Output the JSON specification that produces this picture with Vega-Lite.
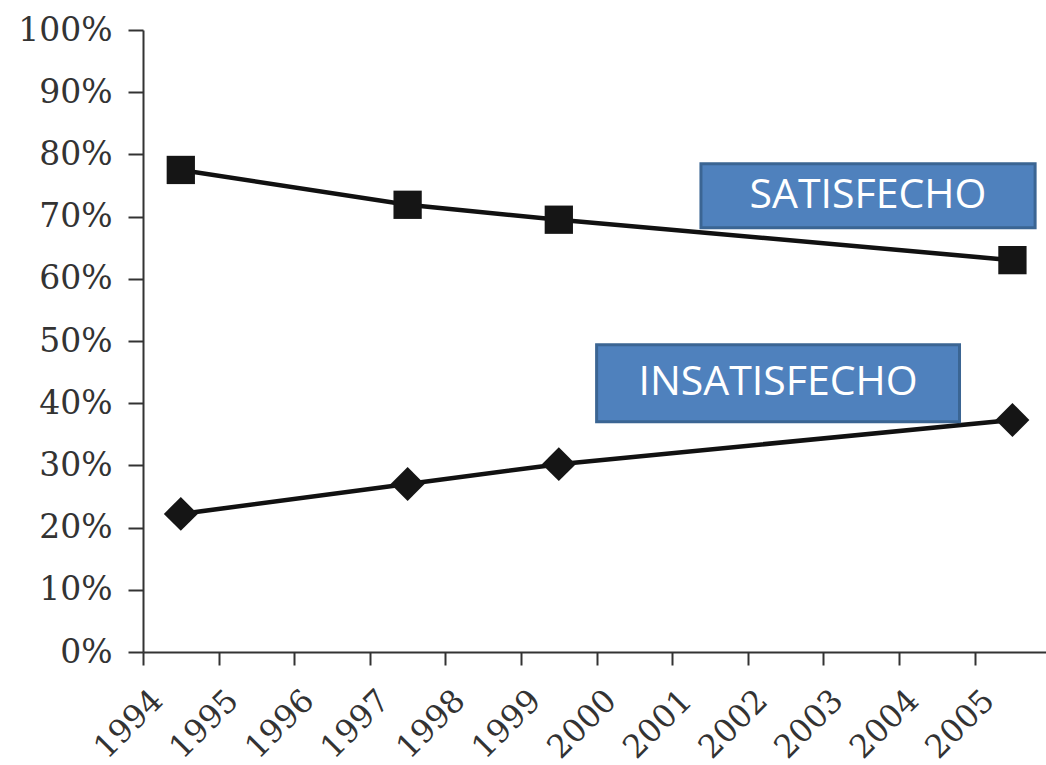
{
  "$schema": "https://vega.github.io/schema/vega-lite/v6.json",
  "width": 903,
  "height": 622,
  "autosize": "none",
  "padding": {"left": 143, "top": 30, "right": 0, "bottom": 113},
  "background": "white",
  "config": {"view": {"stroke": null}},
  "datasets": {
    "series": [
      {"year": 1994.5, "value": 77.5, "series": "Satisfecho"},
      {"year": 1997.5, "value": 71.9, "series": "Satisfecho"},
      {"year": 1999.5, "value": 69.5, "series": "Satisfecho"},
      {"year": 2005.5, "value": 63.0, "series": "Satisfecho"},
      {"year": 1994.5, "value": 22.2, "series": "Insatisfecho"},
      {"year": 1997.5, "value": 27.0, "series": "Insatisfecho"},
      {"year": 1999.5, "value": 30.2, "series": "Insatisfecho"},
      {"year": 2005.5, "value": 37.3, "series": "Insatisfecho"}
    ],
    "labels": [
      {"label": "SATISFECHO", "x1": 2001.38, "x2": 2005.8, "y1": 78.5, "y2": 68.2, "tx": 2003.59, "ty": 73.3},
      {"label": "INSATISFECHO", "x1": 2000.0, "x2": 2004.8, "y1": 49.4, "y2": 37.0, "tx": 2002.4, "ty": 43.2}
    ]
  },
  "layer": [
    {
      "data": {"name": "series"},
      "mark": {"type": "line", "color": "#111111", "strokeWidth": 4.5},
      "encoding": {
        "x": {
          "field": "year", "type": "quantitative",
          "scale": {"domain": [1994, 2005.944], "nice": false, "zero": false},
          "axis": {
            "title": null,
            "values": [1994, 1995, 1996, 1997, 1998, 1999, 2000, 2001, 2002, 2003, 2004, 2005],
            "format": "d",
            "labelAngle": -45,
            "labelAlign": "right",
            "labelBaseline": "middle",
            "labelFont": "DejaVu Serif",
            "labelFontSize": 32,
            "labelColor": "#333333",
            "labelPadding": 30,
            "labelOffset": 14,
            "labelFlush": false,
            "labelOverlap": false,
            "tickSize": 13,
            "tickWidth": 2,
            "tickColor": "#333333",
            "domainColor": "#333333",
            "domainWidth": 2,
            "grid": false
          }
        },
        "y": {
          "field": "value", "type": "quantitative",
          "scale": {"domain": [0, 100], "nice": false},
          "axis": {
            "title": null,
            "values": [0, 10, 20, 30, 40, 50, 60, 70, 80, 90, 100],
            "labelExpr": "datum.value + '%'",
            "labelFont": "DejaVu Serif",
            "labelFontSize": 33,
            "labelColor": "#333333",
            "labelPadding": 16,
            "labelFlush": false,
            "tickSize": 15,
            "tickWidth": 2,
            "tickColor": "#333333",
            "domainColor": "#333333",
            "domainWidth": 2,
            "grid": false
          }
        },
        "detail": {"field": "series"}
      }
    },
    {
      "data": {"name": "series"},
      "mark": {"type": "point", "filled": true, "opacity": 1, "color": "#151515"},
      "encoding": {
        "x": {"field": "year", "type": "quantitative"},
        "y": {"field": "value", "type": "quantitative"},
        "shape": {
          "field": "series", "type": "nominal",
          "scale": {"domain": ["Satisfecho", "Insatisfecho"], "range": ["square", "diamond"]},
          "legend": null
        },
        "size": {
          "field": "series", "type": "nominal",
          "scale": {"domain": ["Satisfecho", "Insatisfecho"], "range": [800, 1150]},
          "legend": null
        }
      }
    },
    {
      "data": {"name": "labels"},
      "mark": {"type": "rect", "fill": "#4F81BD", "stroke": "#3B6593", "strokeWidth": 3},
      "encoding": {
        "x": {"field": "x1", "type": "quantitative"},
        "x2": {"field": "x2"},
        "y": {"field": "y1", "type": "quantitative"},
        "y2": {"field": "y2"}
      }
    },
    {
      "data": {"name": "labels"},
      "mark": {"type": "text", "font": "Open Sans", "fontSize": 41, "color": "white", "align": "center", "baseline": "middle"},
      "encoding": {
        "x": {"field": "tx", "type": "quantitative"},
        "y": {"field": "ty", "type": "quantitative"},
        "text": {"field": "label"}
      }
    }
  ]
}
